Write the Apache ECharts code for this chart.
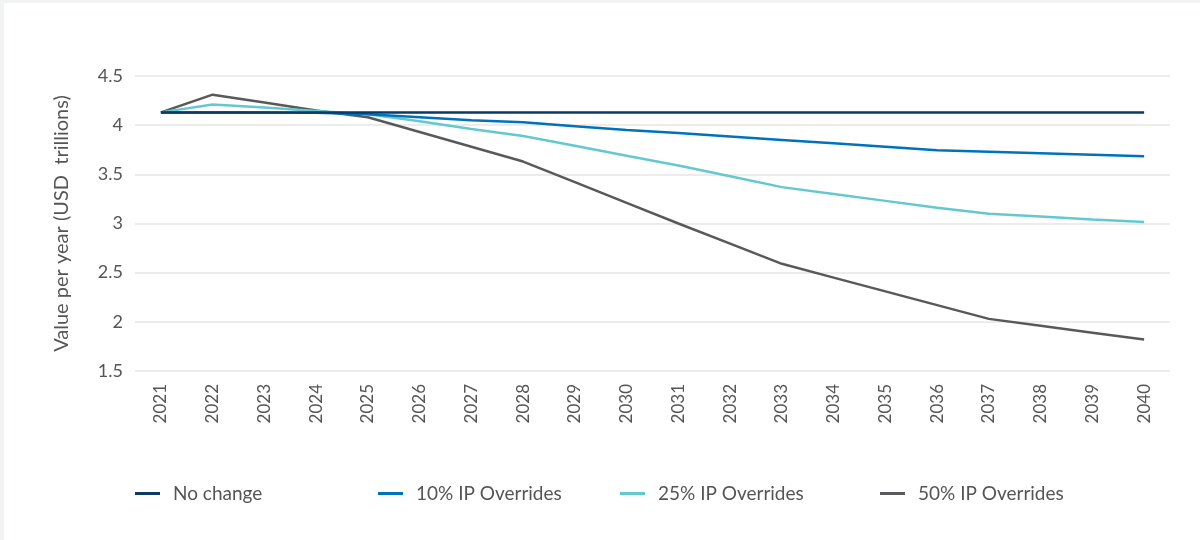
<!DOCTYPE html>
<html>
<head>
<meta charset="utf-8">
<script src="https://cdn.jsdelivr.net/npm/echarts@6/dist/echarts.min.js"></script>
<style>
  html, body { margin: 0; padding: 0; background: #f2f4f3; }
  #chart { position: absolute; left: 4px; top: 3px; width: 1196px; height: 537px; background: #fff; }
</style>
</head>
<body>
<div id="chart"></div>
<script>
var years = ['2021','2022','2023','2024','2025','2026','2027','2028','2029','2030',
             '2031','2032','2033','2034','2035','2036','2037','2038','2039','2040'];

var noChange = [4.13,4.13,4.13,4.13,4.13,4.13,4.13,4.13,4.13,4.13,
                4.13,4.13,4.13,4.13,4.13,4.13,4.13,4.13,4.13,4.13];
var ip10 = [4.13,4.13,4.13,4.125,4.11,4.08,4.05,4.03,3.99,3.95,
            3.92,3.885,3.85,3.815,3.78,3.745,3.73,3.715,3.70,3.685];
var ip25 = [4.13,4.21,4.18,4.145,4.11,4.04,3.96,3.89,3.79,3.69,
            3.59,3.48,3.37,3.30,3.23,3.16,3.10,3.07,3.04,3.015];
var ip50 = [4.13,4.31,4.23,4.15,4.08,3.93,3.78,3.63,3.42,3.21,
            3.00,2.795,2.59,2.45,2.31,2.17,2.03,1.96,1.89,1.82];

var names = ['No change','10% IP Overrides','25% IP Overrides','50% IP Overrides'];
var colors = ['#0a3a66','#0072bc','#63c9cf','#58595b'];
var legendLeft = [126, 369, 611, 871];

var font = 'Lato';
var chart = echarts.init(document.getElementById('chart'));

function mkSeries(i, data) {
  return {
    name: names[i],
    type: 'line',
    data: data,
    symbol: 'none',
    color: colors[i],
    lineStyle: { width: 2.5, color: colors[i] },
    z: 10 - i
  };
}

var option = {
  animation: false,
  textStyle: { fontFamily: font },
  grid: { left: 131, right: 30, top: 73, bottom: 169 },
  legend: names.map(function (n, i) {
    return {
      data: [n],
      left: legendLeft[i],
      top: 476,
      icon: 'rect',
      itemWidth: 25,
      itemHeight: 3,
      itemGap: 0,
      textStyle: { fontFamily: font, fontSize: 19, color: '#555', padding: [0, 0, 0, 8] }
    };
  }),
  xAxis: {
    type: 'category',
    data: years,
    axisLine: { show: false },
    axisTick: { show: false },
    axisLabel: { rotate: 90, margin: 13, fontSize: 17, color: '#555', fontFamily: font }
  },
  yAxis: {
    type: 'value',
    min: 1.5,
    max: 4.5,
    interval: 0.5,
    name: 'Value per year (USD  trillions)',
    nameLocation: 'middle',
    nameGap: 63,
    nameTextStyle: { fontSize: 20, color: '#555', fontFamily: font },
    axisLine: { show: false },
    axisTick: { show: false },
    axisLabel: { fontSize: 18, color: '#555', margin: 12, fontFamily: font },
    splitLine: { lineStyle: { color: '#e6e6e6', width: 1.5 } }
  },
  series: [
    mkSeries(0, noChange),
    mkSeries(1, ip10),
    mkSeries(2, ip25),
    mkSeries(3, ip50)
  ]
};

chart.setOption(option);
</script>
</body>
</html>
